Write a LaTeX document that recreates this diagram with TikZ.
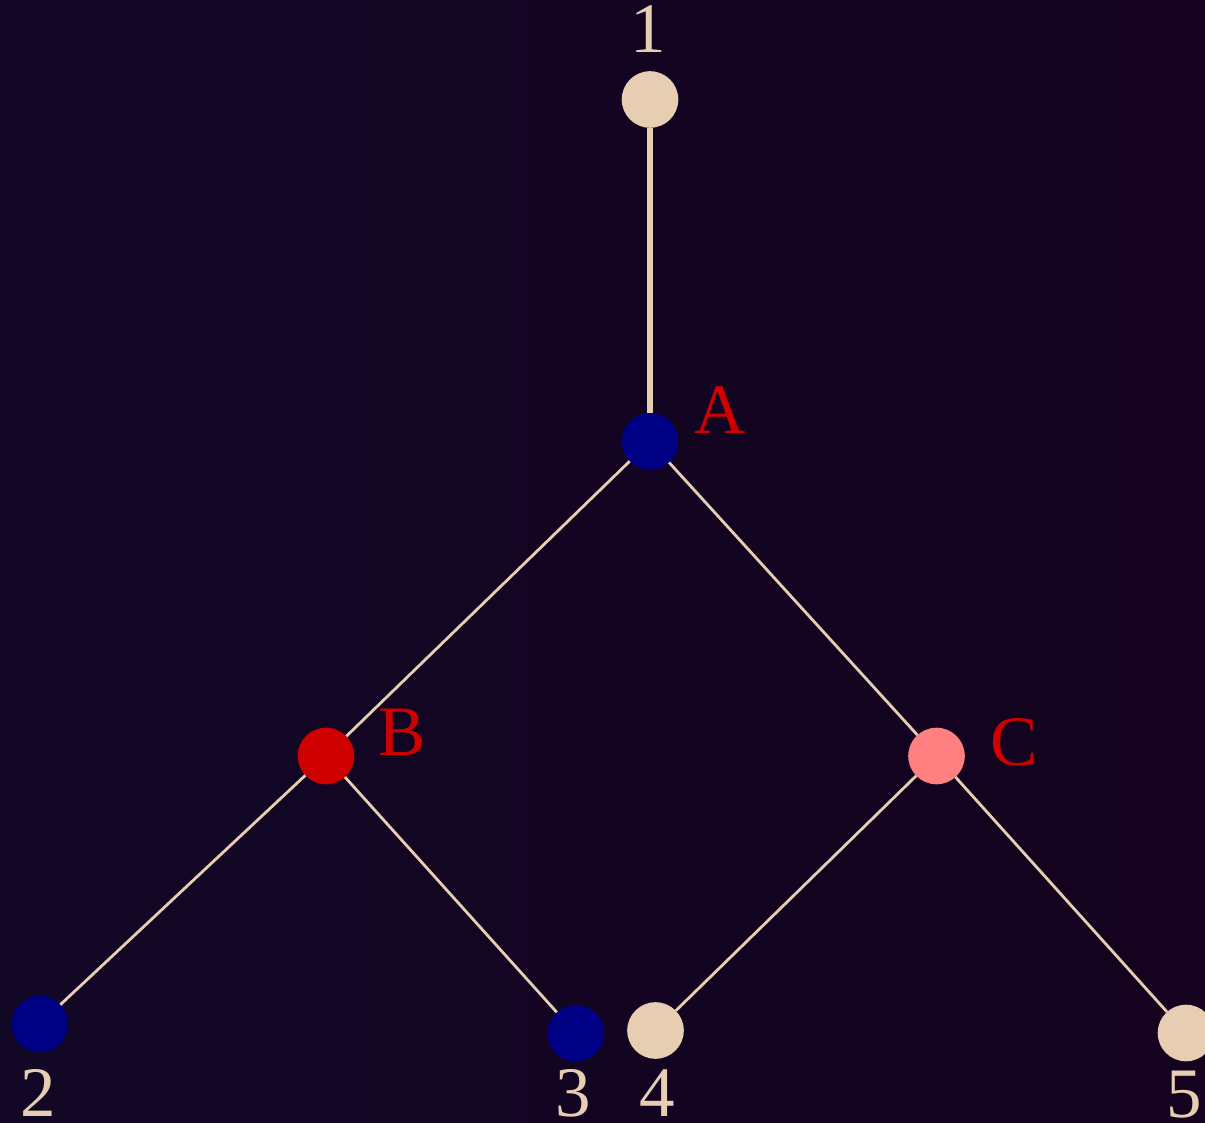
\documentclass[tikz,border=0pt]{standalone}
\usepackage{fontspec}
\setmainfont{Liberation Serif}
\definecolor{bgleft}{RGB}{18,8,38}
\definecolor{bgright}{RGB}{20,2,30}
\definecolor{beige}{RGB}{231,206,178}
\definecolor{navy}{RGB}{0,0,132}
\definecolor{deepred}{RGB}{206,0,0}
\definecolor{salmon}{RGB}{255,128,128}
\begin{document}
\begin{tikzpicture}[x=1pt,y=-1pt,
  vertex/.style={circle,minimum size=56.6pt,inner sep=0pt,outer sep=0pt},
  link/.style={draw=beige,line width=2.8pt},
  trunk/.style={draw=beige,line width=5.5pt},
  numlabel/.style={text=beige,anchor=base,inner sep=0pt,font=\fontsize{71}{71}\selectfont},
  letlabel/.style={text=deepred,anchor=base,inner sep=0pt,font=\fontsize{71}{71}\selectfont}]
  % canvas
  \useasboundingbox (0,0) rectangle (1205,1123);
  \shade[left color=bgleft,right color=bgright] (0,0) rectangle (1205,1123);

  % vertices
  \node[vertex,fill=beige]   (n1) at (650,99.5) {};
  \node[vertex,fill=navy]    (nA) at (650,441.5) {};
  \node[vertex,fill=deepred] (nB) at (326,756) {};
  \node[vertex,fill=salmon]  (nC) at (936.5,756) {};
  \node[vertex,fill=navy]    (n2) at (39.7,1024) {};
  \node[vertex,fill=navy]    (n3) at (575.7,1033.3) {};
  \node[vertex,fill=beige]   (n4) at (655.5,1030.5) {};
  \node[vertex,fill=beige]   (n5) at (1186,1033) {};

  % edges
  \draw[trunk] (n1) -- (nA);
  \draw[link] (nA) -- (nB);
  \draw[link] (nA) -- (nC);
  \draw[link] (nB) -- (n2);
  \draw[link] (nB) -- (n3);
  \draw[link] (nC) -- (n4);
  \draw[link] (nC) -- (n5);

  % labels
  \node[numlabel] (l1) at (648,53) {1};
  \node[numlabel] (l2) at (38,1116.7) {2};
  \node[numlabel] (l3) at (573,1116.7) {3};
  \node[numlabel] (l4) at (657,1116.7) {4};
  \node[numlabel] (l5) at (1184,1117) {5};
  \node[letlabel] (lA) at (720.5,433) {A};
  \node[letlabel] (lB) at (402.5,755) {B};
  \node[letlabel] (lC) at (1014,765) {C};
\end{tikzpicture}
\end{document}
